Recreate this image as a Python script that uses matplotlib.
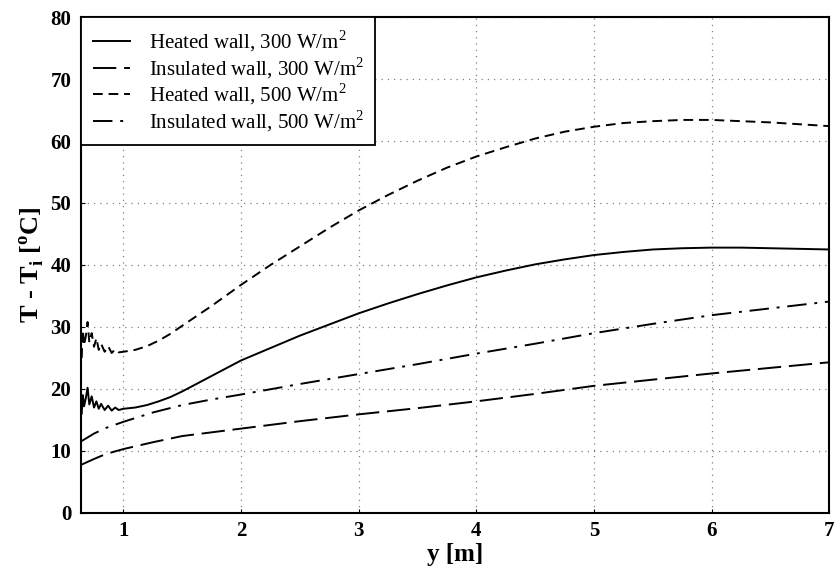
import numpy as np
import matplotlib.pyplot as plt

plt.rcParams['font.family'] = ['Liberation Serif', 'DejaVu Serif']
plt.rcParams['mathtext.fontset'] = 'custom'
plt.rcParams['mathtext.rm'] = 'Liberation Serif'

# Heated wall, 300 W/m2 (solid)
y_h300 = [0.645, 0.655, 0.665, 0.68, 0.695, 0.71, 0.73, 0.75, 0.77, 0.79, 0.81, 0.84, 0.87, 0.90, 0.93, 0.96,
          1.0, 1.1, 1.2, 1.3, 1.4, 1.5, 1.75, 2.0, 2.25, 2.5, 2.75, 3.0, 3.25, 3.5, 3.75, 4.0, 4.25, 4.5, 4.75,
          5.0, 5.25, 5.5, 5.75, 6.0, 6.25, 6.5, 6.75, 7.0]
t_h300 = [16.0, 19.0, 17.2, 18.5, 20.2, 17.5, 18.8, 17.0, 18.0, 16.8, 17.6, 16.6, 17.3, 16.5, 17.0, 16.6,
          16.8, 17.0, 17.4, 18.0, 18.7, 19.6, 22.1, 24.6, 26.6, 28.6, 30.4, 32.2, 33.8, 35.3, 36.7, 38.0, 39.1, 40.1, 40.9,
          41.6, 42.1, 42.5, 42.7, 42.8, 42.8, 42.7, 42.6, 42.5]

# Heated wall, 500 W/m2 (short dash)
y_h500 = y_h300
t_h500 = [25.0, 29.5, 27.0, 28.5, 30.8, 27.5, 29.0, 26.8, 28.2, 26.3, 27.3, 26.0, 26.9, 25.8, 26.4, 25.9,
          26.0, 26.3, 26.9, 27.8, 28.9, 30.2, 33.4, 36.8, 40.0, 43.0, 46.0, 48.8, 51.3, 53.6, 55.7, 57.5, 59.0, 60.4, 61.5,
          62.3, 62.9, 63.2, 63.4, 63.4, 63.2, 63.0, 62.7, 62.4]

# Insulated walls
y_ins = [0.645, 0.75, 0.85, 1.0, 1.25, 1.5, 1.75, 2.0, 2.5, 3.0, 3.5, 4.0, 4.5, 5.0, 5.5, 6.0, 6.5, 7.0]
t_i300 = [7.8, 8.7, 9.5, 10.3, 11.4, 12.4, 13.0, 13.6, 14.8, 15.9, 16.9, 18.0, 19.2, 20.5, 21.5, 22.5, 23.4, 24.3]
t_i500 = [11.6, 12.8, 13.7, 14.7, 16.2, 17.4, 18.3, 19.1, 20.8, 22.4, 24.0, 25.7, 27.3, 29.0, 30.5, 31.9, 33.0, 34.1]

fig = plt.figure(figsize=(8.36, 5.68), dpi=100)
ax = fig.add_axes([0.097, 0.097, 0.895, 0.873])

lw = 1.4
ax.plot(y_h300, t_h300, color='black', lw=lw, linestyle='-', label='Heated wall, 300 W/m$^2$')
ax.plot(y_ins, t_i300, color='black', lw=lw, linestyle=(0, (12, 4)), label='Insulated wall, 300 W/m$^2$')
ax.plot(y_h500, t_h500, color='black', lw=lw, linestyle=(0, (5, 3)), label='Heated wall, 500 W/m$^2$')
ax.plot(y_ins, t_i500, color='black', lw=lw, linestyle=(0, (10, 4, 1.5, 4)), label='Insulated wall, 500 W/m$^2$')

ax.set_xlim(0.64, 7)
ax.set_ylim(0, 80)
ax.set_xticks([1, 2, 3, 4, 5, 6, 7])
ax.set_yticks(np.arange(0, 81, 10))
ax.grid(True, linestyle=(0, (1, 4)), color='gray', linewidth=0.9)
ax.tick_params(direction='in', length=3, labelsize=15)
ax.tick_params(axis='x', pad=6)
ax.tick_params(axis='y', pad=7)
for lab in ax.get_xticklabels() + ax.get_yticklabels():
    lab.set_fontweight('bold')
for s in ax.spines.values():
    s.set_linewidth(1.5)

ax.set_xlabel('y [m]', fontsize=18, fontweight='bold', labelpad=1)
ax.set_ylabel('T - T$_\\mathregular{i}$ [$^\\mathregular{o}$C]', fontsize=19, fontweight='bold', labelpad=3)

leg = ax.legend(loc='upper left', fontsize=15, frameon=True, fancybox=False, framealpha=1,
                edgecolor='black', borderaxespad=0, handlelength=1.8, labelspacing=0.05,
                borderpad=0.55, handletextpad=0.9)
leg.get_frame().set_linewidth(1.3)

fig.savefig('out.png', dpi=100)
